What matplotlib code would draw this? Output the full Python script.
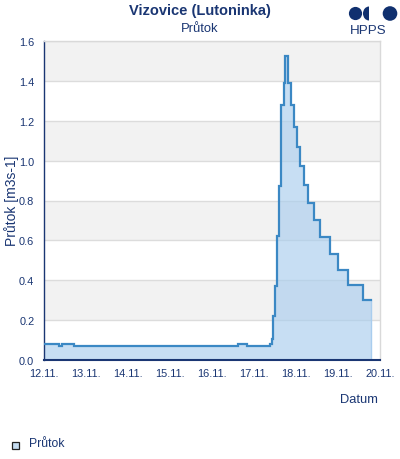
import matplotlib
matplotlib.use("Agg")
import matplotlib.pyplot as plt
from matplotlib.patches import Rectangle, Circle, Ellipse

plt.rcParams['font.family'] = ['Liberation Sans', 'DejaVu Sans']

# ---- data (hours since 12.11. 00:00, step values) ----
hours = [0, 8.5, 10, 17, 111, 116, 129, 130, 131, 132, 133, 134, 135.5, 137,
         137.7, 139.4, 141, 142.8, 144.6, 146.3, 148.8, 151, 154, 157.7,
         163.7, 168.2, 173.7, 182.3, 186.7]
flow = [0.08, 0.07, 0.08, 0.07, 0.08, 0.07, 0.08, 0.105, 0.22, 0.37, 0.62,
        0.875, 1.28, 1.39, 1.525, 1.39, 1.28, 1.167, 1.067, 0.974, 0.88,
        0.787, 0.702, 0.617, 0.533, 0.453, 0.376, 0.302, 0.302]
xtick_hours = [0, 24, 48, 72, 96, 120, 144, 168, 192]
xtick_labels = ['12.11.', '13.11.', '14.11.', '15.11.', '16.11.', '17.11.',
                '18.11.', '19.11.', '20.11.']
yticks = [0.0, 0.2, 0.4, 0.6, 0.8, 1.0, 1.2, 1.4, 1.6]

NAVY = '#1a3673'
W, H = 400, 460
fig = plt.figure(figsize=(W / 100, H / 100), dpi=100)
ax = fig.add_axes([44 / W, 1 - 361 / H, (380 - 44) / W, (361 - 42) / H])

# alternating bands
for i in range(len(yticks) - 1):
    if i % 2 == 1:
        ax.axhspan(yticks[i], yticks[i + 1], color='#f2f2f2', lw=0, zorder=0)
ax.set_yticks(yticks)
ax.set_yticklabels([f'{v:.1f}' for v in yticks])
ax.yaxis.grid(True, color='#dcdcdc', lw=1, zorder=1)
ax.set_axisbelow(True)

ax.fill_between(hours, flow, 0, step='post', color='#a9cdee', alpha=0.65,
                lw=0, zorder=2)
ax.plot(hours, flow, drawstyle='steps-post', color='#3b88c4', lw=1.6,
        zorder=3, solid_joinstyle='miter')
ax.vlines(hours[-1], 0, flow[-1], color='#a9cdee', lw=1, zorder=2)

ax.set_xlim(0, 192)
ax.set_ylim(0, 1.6)
ax.set_xticks(xtick_hours)
ax.set_xticklabels(xtick_labels)
ax.tick_params(axis='both', length=0, labelsize=7.9, labelcolor=NAVY)
ax.tick_params(axis='x', pad=6)
ax.tick_params(axis='y', pad=7)

for s in ('top', 'right'):
    ax.spines[s].set_color('#d9d9d9')
    ax.spines[s].set_linewidth(1)
ax.spines['left'].set_color(NAVY)
ax.spines['left'].set_linewidth(1)
ax.spines['bottom'].set_color(NAVY)
ax.spines['bottom'].set_linewidth(1.5)

# overlay in pixel coordinates
ov = fig.add_axes([0, 0, 1, 1])
ov.set_xlim(0, W)
ov.set_ylim(H, 0)
ov.axis('off')
ov.patch.set_visible(False)

ov.text(12, 201, 'Průtok [m3s-1]', rotation=90, ha='center', va='center',
        fontsize=10, color=NAVY)
ov.text(200, 11, 'Vizovice (Lutoninka)', ha='center', va='center',
        fontsize=10.5, fontweight='bold', color=NAVY)
ov.text(200, 29.5, 'Průtok', ha='center', va='center', fontsize=9.4,
        color=NAVY)
ov.text(359, 400, 'Datum', ha='center', va='center', fontsize=9.3,
        color=NAVY)

# logo
LOGO = '#10306f'
ov.add_patch(Circle((355.5, 14.5), 6.6, color=LOGO, lw=0))
half = Ellipse((369, 14.5), 12, 14, color=LOGO, lw=0)
ov.add_patch(half)
clip = Rectangle((360, 0), 9, 30, transform=ov.transData)
half.set_clip_path(clip)
ov.add_patch(Circle((390, 14.5), 7.3, color=LOGO, lw=0))
ov.text(368, 31, 'HPPS', ha='center', va='center', fontsize=9.6, color=NAVY)

# legend
ov.add_patch(Rectangle((12, 443), 6.5, 6.5, facecolor='#c6ddf2',
                       edgecolor='#222222', lw=0.9))
ov.text(29, 444.5, 'Průtok', ha='left', va='center', fontsize=8.8,
        color=NAVY)

fig.savefig('out.png', dpi=100)
